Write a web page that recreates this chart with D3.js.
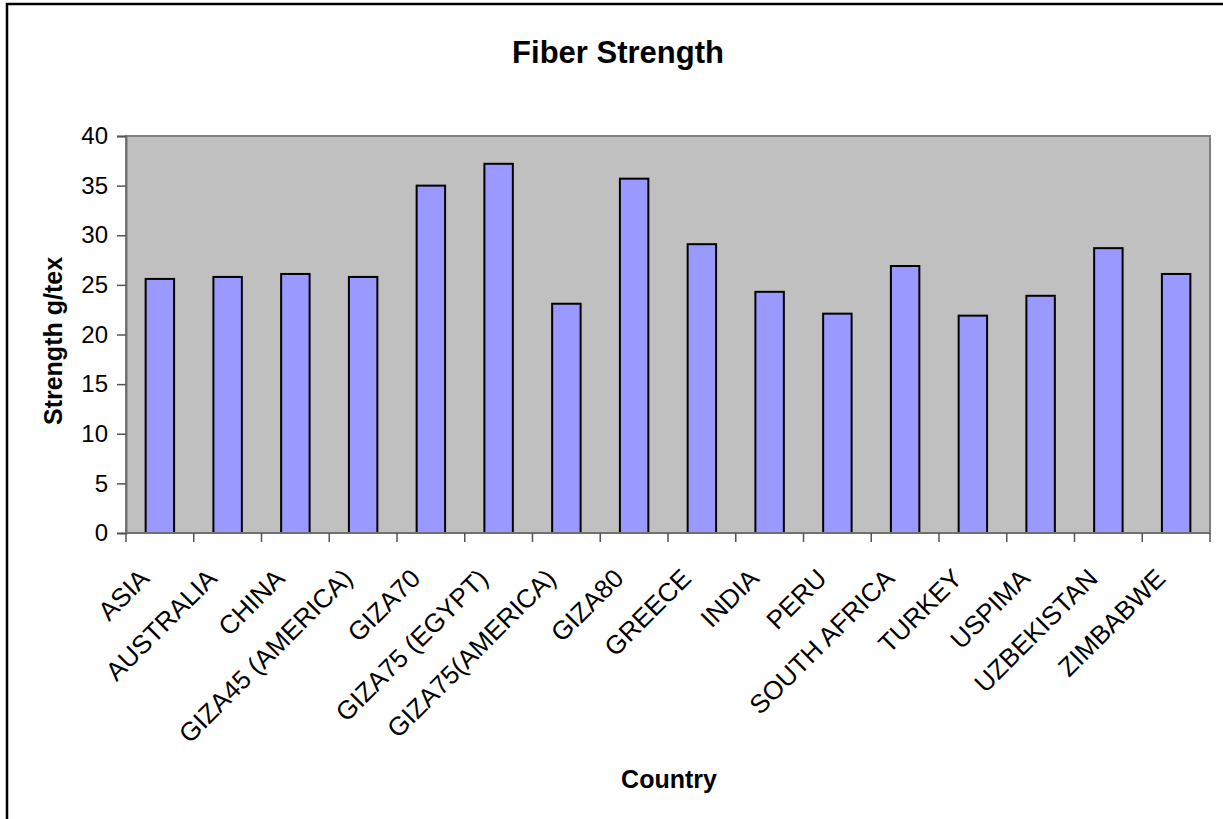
<!DOCTYPE html>
<html>
<head>
<meta charset="utf-8">
<script src="https://cdn.jsdelivr.net/npm/d3@7"></script>
<style>
  html, body { margin: 0; padding: 0; background: #fff; }
  svg { display: block; font-family: Arial, "Liberation Sans", sans-serif; }
</style>
</head>
<body>
<svg id="chart" width="1223" height="819"></svg>
<script>
// Fibre strength by origin (g/tex)
const countries = [
  "ASIA", "AUSTRALIA", "CHINA", "GIZA45 (AMERICA)", "GIZA70", "GIZA75 (EGYPT)",
  "GIZA75(AMERICA)", "GIZA80", "GREECE", "INDIA", "PERU", "SOUTH AFRICA",
  "TURKEY", "USPIMA", "UZBEKISTAN", "ZIMBABWE"
];
const strength = [
  25.6, 25.8, 26.1, 25.8, 35.0, 37.2,
  23.1, 35.7, 29.1, 24.3, 22.1, 26.9,
  21.9, 23.9, 28.7, 26.1
];
const yTicks = [0, 5, 10, 15, 20, 25, 30, 35, 40];

const titleText = "Fiber Strength";
const yTitle = "Strength g/tex";
const xTitle = "Country";

const svg = d3.select("#chart");

// outer chart frame (runs off the right and bottom edges)
svg.append("rect")
  .attr("x", 7).attr("y", 4)
  .attr("width", 1240).attr("height", 840)
  .attr("fill", "#fff")
  .attr("stroke", "#000")
  .attr("stroke-width", 2.5);

const plot = { left: 126, right: 1210, top: 136, bottom: 533 };

const x = d3.scaleBand()
  .domain(countries)
  .range([plot.left, plot.right])
  .paddingInner(0.58)
  .paddingOuter(0.29);

const xSlot = d3.scaleBand()
  .domain(countries)
  .range([plot.left, plot.right]);

const y = d3.scaleLinear()
  .domain([0, 40])
  .range([plot.bottom, plot.top]);

// plot area
svg.append("rect")
  .attr("x", plot.left).attr("y", plot.top)
  .attr("width", plot.right - plot.left)
  .attr("height", plot.bottom - plot.top)
  .attr("fill", "#C0C0C0")
  .attr("stroke", "#808080")
  .attr("stroke-width", 2);

// bars
svg.append("g")
  .selectAll("rect")
  .data(countries.map((c, i) => ({ c, v: strength[i] })))
  .join("rect")
  .attr("x", d => x(d.c))
  .attr("y", d => y(d.v))
  .attr("width", x.bandwidth())
  .attr("height", d => y(0) - y(d.v))
  .attr("fill", "#9999FF")
  .attr("stroke", "#000")
  .attr("stroke-width", 2);

// y axis
const yAxis = svg.append("g")
  .attr("transform", `translate(${plot.left},0)`)
  .call(d3.axisLeft(y).tickValues(yTicks).tickSize(9).tickPadding(9));
yAxis.select(".domain").attr("stroke", "#707070").attr("stroke-width", 2);
yAxis.selectAll(".tick line").attr("stroke", "#555").attr("stroke-width", 1.5);
yAxis.selectAll(".tick text")
  .attr("font-size", 24)
  .attr("fill", "#000")
  .attr("font-family", "Arial, 'Liberation Sans', sans-serif");

// x axis: ticks sit on the category boundaries
const boundaries = d3.range(countries.length + 1).map(i => plot.left + i * xSlot.step());
const xAxisG = svg.append("g");
xAxisG.append("line")
  .attr("x1", plot.left).attr("x2", plot.right)
  .attr("y1", plot.bottom).attr("y2", plot.bottom)
  .attr("stroke", "#707070").attr("stroke-width", 2);
xAxisG.selectAll("line.tk")
  .data(boundaries)
  .join("line")
  .attr("class", "tk")
  .attr("x1", d => d).attr("x2", d => d)
  .attr("y1", plot.bottom).attr("y2", plot.bottom + 9)
  .attr("stroke", "#555").attr("stroke-width", 1.5);

xAxisG.selectAll("text")
  .data(countries)
  .join("text")
  .attr("transform", d => `translate(${xSlot(d) + xSlot.bandwidth() / 2 - 9},${plot.bottom + 47}) rotate(-45)`)
  .attr("text-anchor", "end")
  .attr("font-size", 26)
  .attr("fill", "#000")
  .text(d => d);

// titles
svg.append("text")
  .attr("x", 618).attr("y", 63)
  .attr("text-anchor", "middle")
  .attr("font-size", 31)
  .attr("font-weight", "bold")
  .text(titleText);

svg.append("text")
  .attr("transform", `translate(62,341) rotate(-90)`)
  .attr("text-anchor", "middle")
  .attr("font-size", 25)
  .attr("font-weight", "bold")
  .text(yTitle);

svg.append("text")
  .attr("x", 669).attr("y", 788)
  .attr("text-anchor", "middle")
  .attr("font-size", 25)
  .attr("font-weight", "bold")
  .text(xTitle);
</script>
</body>
</html>
